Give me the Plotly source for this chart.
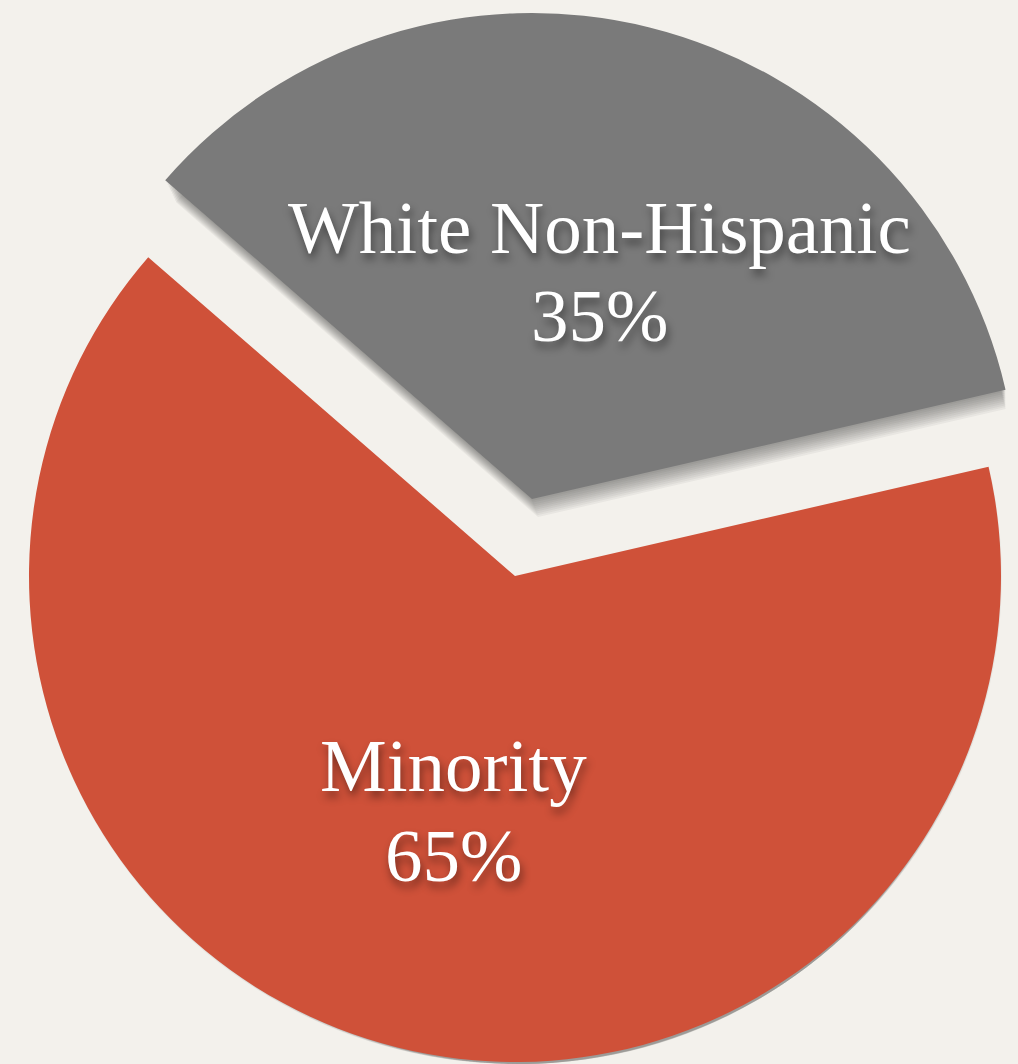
import plotly.graph_objects as go

# ---- data ----
categories = ["White Non-Hispanic", "Minority"]
values = [35, 65]
colors = ["#7a7a7a", "#cf5139"]

# ---- layout geometry (pixels) ----
W, H = 1018, 1064
R = 486
centers = [(532, 499), (515, 576)]          # gray slice is pulled out
label_pos = [(599, 227, 315), (453, 765, 855)]  # x, y label line, y value line
rotation = -49
bg = "#f3f1ec"


def domain(cx, cy, r):
    r = min(r, cx, W - cx, cy, H - cy)
    x0, x1 = max(0, (cx - r) / W), min(1, (cx + r) / W)
    y0, y1 = max(0, 1 - (cy + r) / H), min(1, 1 - (cy - r) / H)
    return dict(x=[x0, x1], y=[y0, y1])


fig = go.Figure()

# soft drop shadows (layered translucent copies, offset downward)
n_layers = 10
for k in range(len(categories)):
    for i in range(1, n_layers + 1):
        dx, dy = 0.6 * i, 1.8 * i
        cols = ["rgba(0,0,0,0)"] * len(categories)
        cols[k] = "rgba(30,30,30,0.05)"
        cx, cy = centers[k]
        fig.add_trace(go.Pie(
            labels=categories, values=values, sort=False,
            direction="clockwise", rotation=rotation,
            marker=dict(colors=cols, line=dict(width=0)),
            textinfo="none", hoverinfo="skip", showlegend=False,
            domain=domain(cx + dx, cy + dy, R + 1),
        ))

# the slices
for k in range(len(categories)):
    cols = ["rgba(0,0,0,0)"] * len(categories)
    cols[k] = colors[k]
    cx, cy = centers[k]
    fig.add_trace(go.Pie(
        labels=categories, values=values, sort=False,
        direction="clockwise", rotation=rotation,
        marker=dict(colors=cols, line=dict(width=0)),
        textinfo="none", showlegend=False,
        hovertemplate="%{label}: %{value}%<extra></extra>",
        domain=domain(cx, cy, R),
    ))

annotations = []
font = dict(family="Liberation Serif, Times New Roman, serif", size=75,
            color="white", shadow="2px 6px 9px rgba(0,0,0,0.45)")
for k, cat in enumerate(categories):
    x, y1, y2 = label_pos[k]
    annotations.append(dict(text=cat, x=x / W, y=1 - y1 / H, xref="paper", yref="paper",
                            xanchor="center", yanchor="middle", showarrow=False, font=font))
    annotations.append(dict(text=f"{values[k]}%", x=x / W, y=1 - y2 / H, xref="paper", yref="paper",
                            xanchor="center", yanchor="middle", showarrow=False, font=font))

fig.update_layout(
    width=W, height=H,
    margin=dict(l=0, r=0, t=0, b=0),
    paper_bgcolor=bg, plot_bgcolor=bg,
    annotations=annotations,
)

fig.write_html(
    "out.html",
    config={"displayModeBar": False},
    post_script="document.body.style.margin='0';document.body.style.background='%s';" % bg,
)
